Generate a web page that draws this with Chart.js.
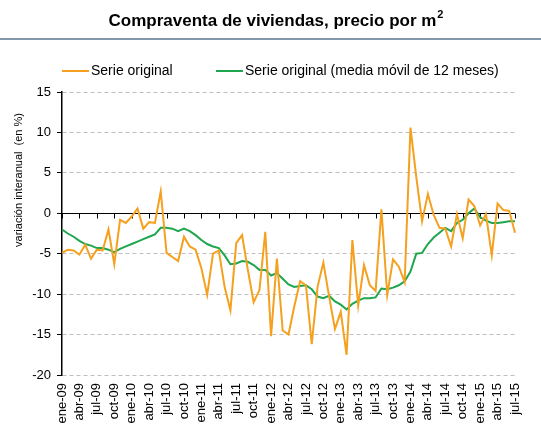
<!DOCTYPE html>
<html>
<head>
<meta charset="utf-8">
<script src="https://cdn.jsdelivr.net/npm/chart.js@4.4.0/dist/chart.umd.min.js"></script>
<style>
  html, body { margin: 0; padding: 0; background: #fff; }
  #wrap { width: 541px; height: 434px; }
</style>
</head>
<body>
<div id="wrap"><canvas id="grafica"></canvas></div>
<script>
// meses y años del eje x (ene-09 ... jul-15)
var meses = ['ene', 'feb', 'mar', 'abr', 'may', 'jun', 'jul', 'ago', 'sep', 'oct', 'nov', 'dic'];
var anios = ['09', '10', '11', '12', '13', '14', '15'];
var mesesUltimoAnio = 7; // hasta jul-15

// serie original (variación interanual, %)
var serieOriginal = [
  -4.9, -4.5, -4.6, -5.1, -3.9, -5.6, -4.5, -4.6, -2.0, -6.3, -0.8, -1.2,
  -0.4, 0.6, -1.9, -1.1, -1.2, 2.7, -4.9, -5.4, -5.9, -2.9, -4.1, -4.5,
  -6.8, -10.1, -5.0, -4.6, -9.1, -12.0, -3.7, -2.7, -7.0, -11.0, -9.5, -2.3,
  -15.2, -5.6, -14.5, -15.0, -11.5, -8.4, -8.9, -16.2, -9.1, -6.1, -10.3, -14.3,
  -12.2, -17.5, -3.3, -11.4, -6.4, -8.9, -9.6, 0.5, -10.1, -5.7, -6.6, -8.5,
  10.6, 4.5, -1.0, 2.4, -0.2, -1.8, -1.9, -4.1, -0.1, -3.1, 1.7, 0.9,
  -1.5, -0.1, -5.2, 1.2, 0.4, 0.3, -2.4
];

// media móvil de 12 meses
var mediaMovil = [
  -2.0, -2.5, -2.9, -3.4, -3.8, -4.0, -4.3, -4.3, -4.5, -4.8, -4.4, -4.1,
  -3.8, -3.5, -3.2, -2.9, -2.6, -1.8, -1.8, -1.9, -2.2, -1.9, -2.2, -2.7,
  -3.3, -3.8, -4.1, -4.3, -5.2, -6.3, -6.2, -5.9, -6.0, -6.4, -7.0, -7.0,
  -7.7, -7.4, -8.1, -8.8, -9.1, -9.0, -8.9, -9.4, -10.3, -10.5, -10.2, -10.9,
  -11.3, -11.9, -11.2, -10.8, -10.5, -10.5, -10.4, -9.3, -9.4, -9.2, -8.9, -8.4,
  -7.2, -5.0, -4.9, -3.8, -3.0, -2.4, -1.8, -2.2, -1.2, -0.8, 0.0, 0.6,
  -0.5, -0.9, -1.2, -1.2, -1.1, -1.0, -1.0
];

var etiquetas = [];
anios.forEach(function (a, k) {
  var n = (k === anios.length - 1) ? mesesUltimoAnio : 12;
  for (var m = 0; m < n; m++) etiquetas.push(meses[m] + '-' + a);
});

var fuente = '"Liberation Sans", Arial, sans-serif';
var titulo = 'Compraventa de viviendas, precio por m';
var tituloExp = '2';

// título con superíndice, linea bajo el título, leyenda, eje en cero y título del eje y
var extras = {
  id: 'extras',
  beforeDatasetsDraw: function (chart) {
    var ctx = chart.ctx, area = chart.chartArea;
    var x = chart.scales.x, y = chart.scales.y;
    var y0 = Math.round(y.getPixelForValue(0)) + 0.5;
    ctx.save();
    ctx.strokeStyle = '#000';
    ctx.lineWidth = 1.2;
    ctx.beginPath();
    ctx.moveTo(area.left, y0);
    ctx.lineTo(area.right, y0);
    ctx.stroke();
    ctx.lineWidth = 1;
    for (var i = 0; i < etiquetas.length; i += 3) {
      var px = Math.round(x.getPixelForValue(i)) + 0.5;
      ctx.beginPath();
      ctx.moveTo(px, y0);
      ctx.lineTo(px, y0 + 5);
      ctx.stroke();
    }
    ctx.restore();
  },
  afterDraw: function (chart) {
    var ctx = chart.ctx;
    ctx.save();
    // título
    ctx.fillStyle = '#000';
    ctx.textBaseline = 'alphabetic';
    ctx.textAlign = 'left';
    ctx.font = 'bold 17px ' + fuente;
    var w1 = ctx.measureText(titulo).width;
    ctx.font = 'bold 11px ' + fuente;
    var w2 = ctx.measureText(tituloExp).width;
    var tx = 276 - (w1 + w2 + 1) / 2;
    ctx.font = 'bold 17px ' + fuente;
    ctx.fillText(titulo, tx, 26);
    ctx.font = 'bold 11px ' + fuente;
    ctx.fillText(tituloExp, tx + w1 + 1, 18);

    // linea bajo el título
    ctx.strokeStyle = '#587391';
    ctx.lineWidth = 1.5;
    ctx.beginPath();
    ctx.moveTo(0, 39);
    ctx.lineTo(chart.width, 39);
    ctx.stroke();

    // leyenda
    var items = [
      { x: 62, ds: chart.data.datasets[0] },
      { x: 216, ds: chart.data.datasets[1] }
    ];
    ctx.font = '14px ' + fuente;
    ctx.textBaseline = 'middle';
    items.forEach(function (it) {
      ctx.strokeStyle = it.ds.borderColor;
      ctx.lineWidth = 2;
      ctx.beginPath();
      ctx.moveTo(it.x, 71);
      ctx.lineTo(it.x + 27, 71);
      ctx.stroke();
      ctx.fillStyle = '#000';
      ctx.fillText(it.ds.label, it.x + 29, 71);
    });

    // título del eje y
    ctx.translate(19, 180);
    ctx.rotate(-Math.PI / 2);
    ctx.font = '11px ' + fuente;
    ctx.textAlign = 'center';
    ctx.fillText('variación interanual  (en %)', 0, 0);
    ctx.restore();
  }
};

Chart.defaults.font.family = fuente;
Chart.defaults.color = '#000';

var grafica = new Chart(document.getElementById('grafica').getContext('2d'), {
  type: 'line',
  data: {
    labels: etiquetas,
    datasets: [{
      label: 'Serie original',
      data: serieOriginal,
      borderColor: '#F5A01E',
      backgroundColor: '#F5A01E',
      borderWidth: 2,
      pointRadius: 0,
      tension: 0
    }, {
      label: 'Serie original (media móvil de 12 meses)',
      data: mediaMovil,
      borderColor: '#1FA64E',
      backgroundColor: '#1FA64E',
      borderWidth: 2,
      pointRadius: 0,
      tension: 0
    }]
  },
  options: {
    responsive: true,
    maintainAspectRatio: false,
    animation: false,
    layout: { padding: { left: 0, right: 26, top: 92, bottom: 0 } },
    plugins: {
      title: { display: false },
      legend: { display: false },
      tooltip: { enabled: false }
    },
    scales: {
      x: {
        offset: false,
        grid: { display: false, drawTicks: false },
        border: { display: false },
        afterFit: function (scale) { scale.height = 59; },
        ticks: {
          autoSkip: false,
          maxRotation: 90,
          minRotation: 90,
          padding: 8,
          font: { size: 13 },
          color: '#000',
          callback: function (val, i) { return i % 3 === 0 ? etiquetas[i] : ''; }
        }
      },
      y: {
        min: -20,
        max: 15,
        afterFit: function (scale) { scale.width = 62; },
        ticks: { stepSize: 5, padding: 6, font: { size: 13 }, color: '#000' },
        grid: { color: '#BFBFBF', tickColor: '#000', tickLength: 5, lineWidth: 1 },
        border: { display: true, color: '#000', width: 1.5, dash: [4, 3] }
      }
    }
  },
  plugins: [extras]
});
</script>
</body>
</html>
